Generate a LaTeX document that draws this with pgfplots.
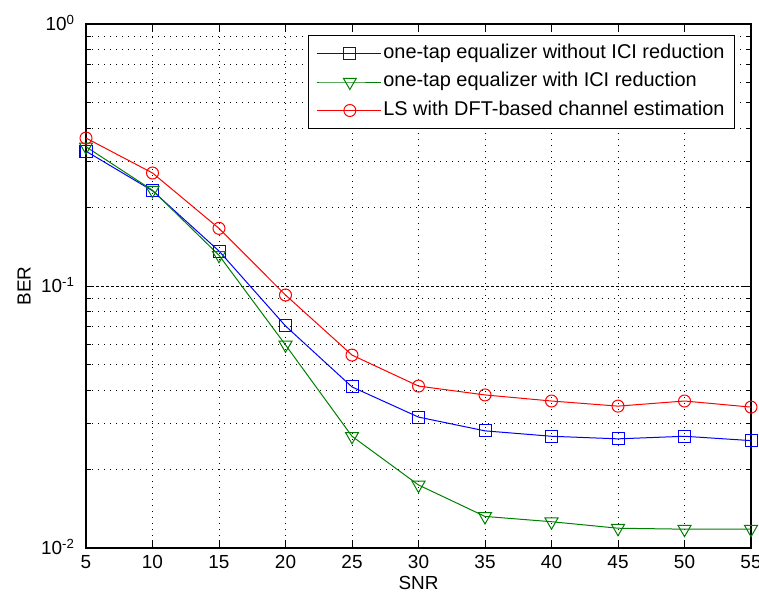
\documentclass[border=0pt]{standalone}
\usepackage{fontspec}
\setmainfont{Liberation Sans}
\usepackage{pgfplots}
\pgfplotsset{compat=1.18}
\newcommand\chartfont{\fontsize{19}{23}\selectfont}
\newcommand\legfont{\fontsize{20}{24}\selectfont}
\definecolor{mgreen}{rgb}{0,0.5,0}
\begin{document}
\begin{tikzpicture}
\begin{axis}[
  scale only axis, width=665bp, height=524bp,
  ymode=log, xmin=5, xmax=55, ymin=1e-2, ymax=1,
  xtick={5,10,...,55},
  ytick={0.01,0.1,1},
  yticklabels={10\textsuperscript{-2},10\textsuperscript{-1},10\textsuperscript{0}},
  minor ytick={0.02,0.03,0.04,0.05,0.06,0.07,0.08,0.09,0.2,0.3,0.4,0.5,0.6,0.7,0.8,0.9},
  /pgf/number format/assume math mode=true,
  tick label style={font=\chartfont},
  xticklabel style={yshift=-4bp},
  yticklabel style={anchor=base east, yshift=-6.8bp, xshift=-8bp},
  label style={font=\chartfont},
  xlabel={SNR}, ylabel={BER},
  xlabel style={at={(axis description cs:0.5,0)}, anchor=center, yshift=-35bp},
  ylabel style={at={(axis description cs:-0.0932,0.5)}, anchor=center, rotate=0},
  tick align=inside, major tick length=8bp, minor tick length=5bp,
  tick style={black, line width=0.9bp},
  axis line style={line width=1.2bp},
  xmajorgrids, ymajorgrids, yminorgrids,
  major grid style={black, line width=0.9bp, dash pattern=on 1bp off 5bp},
  minor grid style={black, line width=0.9bp, dash pattern=on 1bp off 5bp},
  major y grid style={black, line width=0.9bp, dash pattern=on 3bp off 2bp},
  legend style={at={(1,1)}, anchor=north east, xshift=-16bp, yshift=-11bp,
    line width=1bp, inner xsep=8bp, inner ysep=3.75bp, font=\legfont,
    nodes={inner xsep=2bp, inner ysep=5bp, text height=14bp, text depth=4.5bp}},
  legend cell align=left,
  legend image code/.code={\path (-2bp,0bp) -- (0bp,0bp);\draw[mark repeat=2,mark phase=2] plot coordinates {(0bp,0bp)(31bp,0bp)(62bp,0bp)};},
]
\addplot[blue, line width=1bp, mark=square, mark size=6bp, mark options={solid}] coordinates {
(5,0.327)(10,0.231)(15,0.136)(20,0.0704)(25,0.0412)(30,0.0316)(35,0.0280)(40,0.0267)(45,0.0261)(50,0.0267)(55,0.0257)};
\addlegendentry{one-tap equalizer without ICI reduction}
\addplot[mgreen, line width=1bp, mark=triangle, mark size=7.5bp, mark options={solid, rotate=180}] coordinates {
(5,0.340)(10,0.232)(15,0.131)(20,0.0596)(25,0.0267)(30,0.0174)(35,0.0132)(40,0.0126)(45,0.0119)(50,0.0118)(55,0.0118)};
\addlegendentry{one-tap equalizer with ICI reduction}
\addplot[red, line width=1bp, mark=o, mark size=6bp, mark options={solid}] coordinates {
(5,0.367)(10,0.270)(15,0.166)(20,0.0924)(25,0.0545)(30,0.0415)(35,0.0384)(40,0.0364)(45,0.0348)(50,0.0364)(55,0.0345)};
\addlegendentry{LS with DFT-based channel estimation}
\end{axis}
\pgfresetboundingbox
\path[use as bounding box] ([shift={(-86bp,-54bp)}]current axis.south west) rectangle ([shift={(8bp,24bp)}]current axis.north east);
\end{tikzpicture}
\end{document}
